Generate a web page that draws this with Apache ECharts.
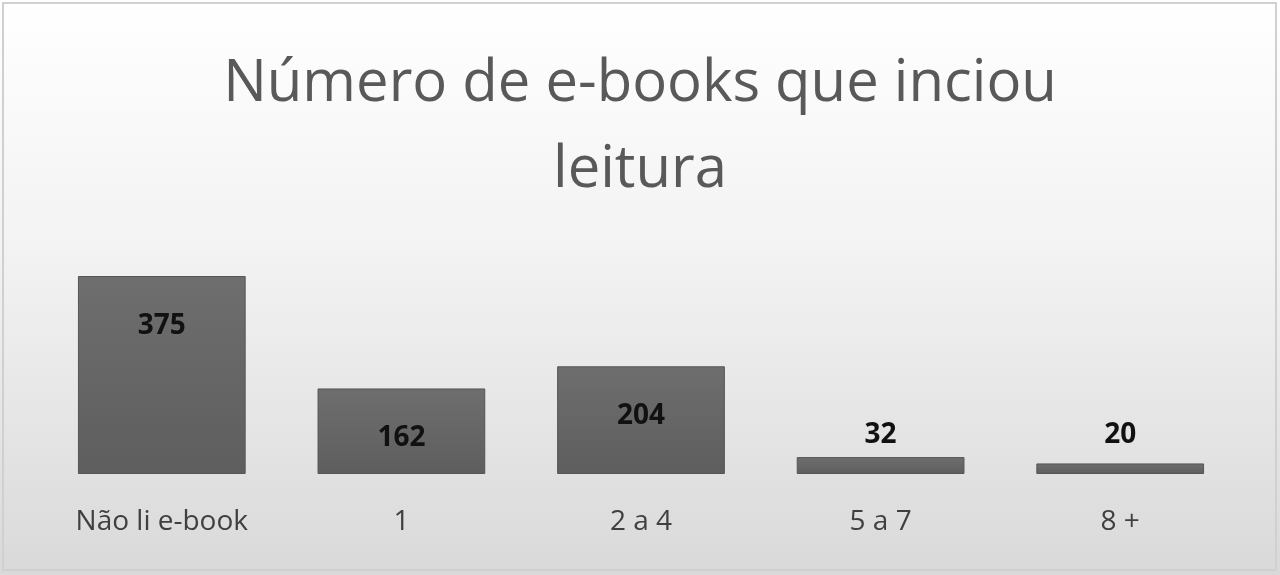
<!DOCTYPE html>
<html><head><meta charset="utf-8">
<script src="https://cdn.jsdelivr.net/npm/echarts@6/dist/echarts.min.js"></script>
<style>
html,body{margin:0;padding:0;background:#fff}
#chart{width:1280px;height:575px}
</style></head>
<body><div id="chart"></div>
<script>
var categories = ['Não li e-book', '1', '2 a 4', '5 a 7', '8 +'];
var values = [375, 162, 204, 32, 20];

var chart = echarts.init(document.getElementById('chart'));

// small bars get their label above, big ones inside near the top
var data = values.map(function(v){
    var small = v < 60;
    return {
        value: v,
        label: small ? {position: 'top', distance: 8 + (32 - v) * 0.5} : {position: 'insideTop', distance: 36}
    };
});

chart.setOption({
    backgroundColor: {
        type: 'linear', x: 0, y: 0, x2: 0, y2: 1,
        colorStops: [{offset: 0, color: '#ffffff'}, {offset: 0.45, color: '#f2f2f2'}, {offset: 1, color: '#d9d9d9'}]
    },
    graphic: [{
        type: 'rect',
        shape: {x: 3, y: 3, width: 1273, height: 567},
        style: {fill: 'none', stroke: '#d0d0d0', lineWidth: 2}
    }],
    title: {
        text: 'Número de e-books que inciou\nleitura',
        left: 'center',
        top: 36,
        textStyle: {
            fontFamily: 'Open Sans',
            fontWeight: 'normal',
            fontSize: 58,
            lineHeight: 86,
            color: '#595959'
        }
    },
    grid: {left: 42, right: 40, top: 276, bottom: 101},
    xAxis: {
        type: 'category',
        data: categories,
        axisLine: {show: false},
        axisTick: {show: false},
        axisLabel: {color: '#404040', fontSize: 28, fontFamily: 'Open Sans', margin: 34}
    },
    yAxis: {
        type: 'value',
        min: 0,
        max: 375,
        show: false,
        splitLine: {show: false}
    },
    series: [{
        type: 'bar',
        data: data,
        barWidth: '70%',
        itemStyle: {
            color: {
                type: 'linear', x: 0, y: 0, x2: 0, y2: 1,
                colorStops: [{offset: 0, color: '#6e6e6e'}, {offset: 1, color: '#5e5e5e'}]
            },
            borderColor: '#555',
            borderWidth: 1
        },
        label: {
            show: true,
            color: '#111',
            fontWeight: 'bold',
            fontSize: 28,
            fontFamily: 'Open Sans'
        }
    }]
});
</script>
</body></html>
